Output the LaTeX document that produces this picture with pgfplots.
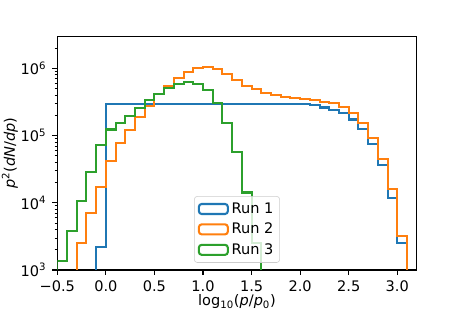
\documentclass[border=0pt]{standalone}
\usepackage{fontspec}
\setmainfont{DejaVu Sans}
\usepackage{pgfplots}
\pgfplotsset{compat=1.18}
\definecolor{c1}{HTML}{1F77B4}
\definecolor{c2}{HTML}{FF7F0E}
\definecolor{c3}{HTML}{2CA02C}
\begin{document}
\begin{tikzpicture}[font=\fontsize{10.5pt}{12.6pt}\selectfont]
\useasboundingbox (-0.573in,-0.39in) rectangle (4.057in,2.70in);
\begin{axis}[
  at={(0,0)}, anchor=south west,
  scale only axis, width=3.594in, height=2.333in,
  xmin=-0.5, xmax=3.2, ymode=log, ymin=1e3, ymax=2.95e6,
  xtick={-0.5,0,0.5,1,1.5,2,2.5,3},
  xticklabels={−0.5,0.0,0.5,1.0,1.5,2.0,2.5,3.0},
  ytick={1e3,1e4,1e5,1e6},
  yticklabels={10\textsuperscript{3},10\textsuperscript{4},10\textsuperscript{5},10\textsuperscript{6}},
  minor ytick={2e3,3e3,4e3,5e3,6e3,7e3,8e3,9e3,2e4,3e4,4e4,5e4,6e4,7e4,8e4,9e4,2e5,3e5,4e5,5e5,6e5,7e5,8e5,9e5,2e6},
  tick align=outside, tick pos=left,
  major tick length=3.5pt, minor tick length=2pt,
  every major tick/.style={black, line width=0.8pt},
  every minor tick/.style={black, line width=0.6pt},
  axis line style={line width=0.8pt},
  xticklabel style={yshift=-1pt},
  yticklabel style={xshift=-1pt},
  xlabel={log\textsubscript{10}(\textit{p}/\textit{p}\textsubscript{0})},
  ylabel={\textit{p}\textsuperscript{2}(\textit{dN}/\textit{dp})},
  xlabel shift=-5pt,
  ylabel shift=-5pt,
  no markers,
  legend cell align=left,
  legend style={at={(0.5,0.031)}, anchor=south, draw=black!20, rounded corners=2pt,
    fill=white, fill opacity=0.8, text opacity=1, row sep=1.5pt, inner sep=2.5pt,
    nodes={inner sep=2pt}},
  legend image code/.code={\draw[#1] (0pt,-3.6pt) rectangle (20.9pt,3.6pt);},
]
\addplot[c1, line width=1.5pt, line join=miter, const plot mark left] coordinates {
(-0.1,1) (-0.1,2.2e3) (0.0,2.93e5) (0.1,2.96e5) (0.2,2.97e5) (0.3,2.97e5) (0.4,2.97e5)
(0.5,2.97e5) (0.6,2.97e5) (0.7,2.97e5) (0.8,2.97e5) (0.9,2.97e5) (1.0,2.97e5)
(1.1,2.97e5) (1.2,2.97e5) (1.3,2.97e5) (1.4,2.97e5) (1.5,2.98e5) (1.6,2.98e5)
(1.7,2.98e5) (1.8,2.97e5) (1.9,2.95e5) (2.0,2.92e5) (2.1,2.8e5) (2.2,2.61e5)
(2.3,2.4e5) (2.4,2.15e5) (2.5,1.73e5) (2.6,1.24e5) (2.7,7.4e4) (2.8,3.6e4)
(2.9,1.17e4) (3.0,2.55e3) (3.1,2.55e3) (3.1,1)
};
\addlegendentry{Run 1}
\addplot[c2, line width=1.5pt, line join=miter, const plot mark left] coordinates {
(-0.3,1) (-0.3,2.55e3) (-0.2,7.0e3) (-0.1,1.74e4) (0.0,4.2e4) (0.1,7.85e4)
(0.2,1.21e5) (0.3,1.86e5) (0.4,2.79e5) (0.5,4.11e5) (0.6,5.53e5) (0.7,7.28e5)
(0.8,8.94e5) (0.9,1.0e6) (1.0,1.04e6) (1.1,9.7e5) (1.2,8.26e5) (1.3,6.72e5)
(1.4,5.53e5) (1.5,4.85e5) (1.6,4.3e5) (1.7,4.02e5) (1.8,3.79e5) (1.9,3.66e5)
(2.0,3.51e5) (2.1,3.39e5) (2.2,3.16e5) (2.3,3.02e5) (2.4,2.65e5) (2.5,2.15e5)
(2.6,1.52e5) (2.7,9.2e4) (2.8,4.5e4) (2.9,1.59e4) (3.0,3.2e3) (3.1,3.2e3) (3.1,1)
};
\addlegendentry{Run 2}
\addplot[c3, line width=1.5pt, line join=miter, const plot mark left] coordinates {
(-0.5,1) (-0.5,1.36e3) (-0.4,3.85e3) (-0.3,1.07e4) (-0.2,2.85e4) (-0.1,7.2e4)
(0.0,1.23e5) (0.1,1.52e5) (0.2,1.93e5) (0.3,2.55e5) (0.4,3.39e5) (0.5,4.11e5)
(0.6,5.06e5) (0.7,5.8e5) (0.8,6.34e5) (0.9,5.8e5) (1.0,4.77e5) (1.1,3.02e5)
(1.2,1.52e5) (1.3,5.76e4) (1.4,1.42e4) (1.5,2.5e3) (1.6,2.5e3) (1.6,1)
};
\addlegendentry{Run 3}
\end{axis}
\end{tikzpicture}
\end{document}
